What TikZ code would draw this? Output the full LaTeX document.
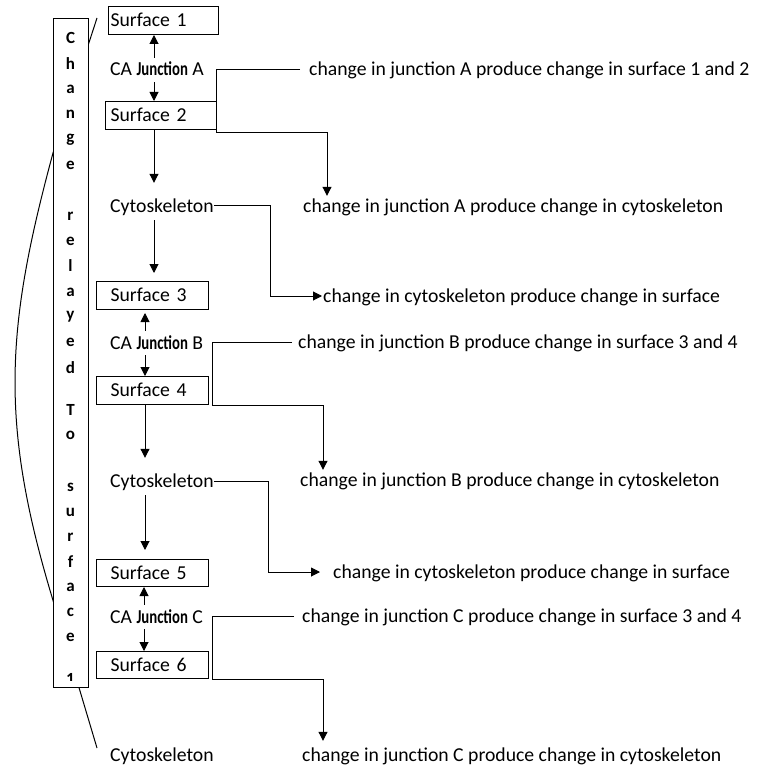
\documentclass[tikz,border=0pt]{standalone}
\usepackage{fontspec}
\setmainfont{Carlito}
\usepackage{graphicx}
\usetikzlibrary{arrows.meta,calc}

% condensed bold word used in the junction labels
\newcommand{\jword}{\scalebox{0.75}[1]{\bfseries Junction}}

\begin{document}
\begin{tikzpicture}[x=1pt,y=-1pt,
  every node/.style={font=\fontsize{19.7pt}{22pt}\selectfont},
  txt/.style={inner sep=0pt, text height=15pt, text depth=3pt, anchor=west},
  junc/.style={txt, inner ysep=3pt},
  cyto/.style={txt, inner ysep=5pt},
  sbox/.style={draw, line width=1pt, inner ysep=0pt, text height=15pt,
               text depth=3pt, anchor=north west, align=left},
  ln/.style={line width=1pt},
  arr/.style={ln, -{Triangle[length=9pt,width=9pt]}},
  vlet/.style={font=\fontsize{17pt}{18pt}\selectfont\bfseries,
               inner sep=0pt, anchor=base},
]
\useasboundingbox (0,0) rectangle (759,767);

% column positions of the vertical arrows and connector corners
\coordinate (colA) at (154,0);
\coordinate (colB) at (145,0);
\coordinate (colC) at (144,0);
\coordinate (kA) at (216,133);
\coordinate (kB) at (212,405);
\coordinate (kC) at (212,679);
\coordinate (aA) at (327,0);
\coordinate (aB) at (323,0);
\coordinate (aC) at (323,0);
\coordinate (vA) at (270,0);
\coordinate (vB) at (268,0);

% long bracket behind the vertical label
\draw[ln] (97,18) -- (53,153) .. controls (5.7,328) and (-0.5,422) .. (52,597) -- (97,748);

% vertical label box
\node[draw, fill=white, line width=1pt, minimum width=35pt, minimum height=669pt,
      inner sep=0pt, anchor=north west] (side) at (53,18) {};
\foreach \ch/\yb [count=\i] in {C/44,h/70,a/94,n/119,g/143,e/170,
    r/220,e/245,l/271,a/296,y/319,e/346,d/373,
    T/415,o/439,
    s/491,u/516,r/541,f/567,a/591,c/616,e/641}
  \node[vlet] (v\i) at (70.5,\yb) {\ch};
\begin{scope}
  \clip (53,18) rectangle (88,680);
  \node[vlet] (v23) at (70.5,684) {1};
\end{scope}

% surfaces
\node[sbox, minimum height=28pt, inner xsep=2pt, text width=106pt] (s1) at (108,6) {Surface 1};
\node[sbox, minimum height=28pt, inner xsep=5pt, text width=101pt] (s2) at (105,101) {Surface 2};
\node[sbox, minimum height=28pt, inner xsep=14pt, text width=84pt] (s3) at (96,281) {Surface 3};
\node[sbox, minimum height=28pt, inner xsep=14pt, text width=84pt] (s4) at (96,376) {Surface 4};
\node[sbox, minimum height=27pt, inner xsep=14pt, text width=84pt] (s5) at (96,559) {Surface 5};
\node[sbox, minimum height=27pt, inner xsep=14pt, text width=84pt] (s6) at (96,651) {Surface 6};

% junctions
\node[junc] (jA) at (110,70) {CA \jword{} A};
\node[junc] (jB) at (110,343) {CA \jword{} B};
\node[junc] (jC) at (110,617) {CA \jword{} C};

% cytoskeleton labels
\node[cyto] (cA) at (110,206) {Cytoskeleton};
\node[cyto] (cB) at (110,481) {Cytoskeleton};
\node[cyto] (cC) at (110,755) {Cytoskeleton};

% statements on the right
\node[txt] (tA1) at (309,70) {change in junction A produce change in surface 1 and 2};
\node[txt] (tA2) at (303,206) {change in junction A produce change in cytoskeleton};
\node[txt] (tA3) at (323,296) {change in cytoskeleton produce change in surface};
\node[txt] (tB1) at (298,342) {change in junction B produce change in surface 3 and 4};
\node[txt] (tB2) at (300,480) {change in junction B produce change in cytoskeleton};
\node[txt] (tB3) at (333,572) {change in cytoskeleton produce change in surface};
\node[txt] (tC1) at (302,616) {change in junction C produce change in surface 3 and 4};
\node[txt] (tC2) at (302,755) {change in junction C produce change in cytoskeleton};

% vertical flow
\draw[arr] (jA.north -| colA) -- (s1.south -| colA);
\draw[arr] (jA.south -| colA) -- (s2.north -| colA);
\draw[arr, shorten >=9pt] (s2.south -| colA) -- (cA.north -| colA);
\draw[arr, shorten >=8pt] (cA.south -| colA) -- (s3.north -| colA);
\draw[arr, shorten >=3pt] (jB.north -| colB) -- (s3.south -| colB);
\draw[arr] (jB.south -| colB) -- (s4.north -| colB);
\draw[arr, shorten >=9pt] (s4.south -| colB) -- (cB.north -| colB);
\draw[arr, shorten >=9pt] (cB.south -| colB) -- (s5.north -| colB);
\draw[arr] (jC.north -| colC) -- (s5.south -| colC);
\draw[arr] (jC.south -| colC) -- (s6.north -| colC);

% junction effects
\draw[arr, shorten <=9pt, shorten >=1pt] (tA1.west) -- (tA1.west -| kA) -- (kA) -| (tA2.north -| aA);
\draw[arr, shorten <=6pt, shorten >=1pt] (tB1.west) -- (tB1.west -| kB) -- (kB) -| (tB2.north -| aB);
\draw[arr, shorten <=8pt, shorten >=5pt] (tC1.west) -- (tC1.west -| kC) -- (kC) -| (tC2.north -| aC);

% cytoskeleton effects
\draw[arr, shorten >=1pt] (cA.east) -- (cA.east -| vA) |- (tA3.west);
\draw[arr, shorten >=13pt] (cB.east) -- (cB.east -| vB) |- (tB3.west);
\end{tikzpicture}
\end{document}
